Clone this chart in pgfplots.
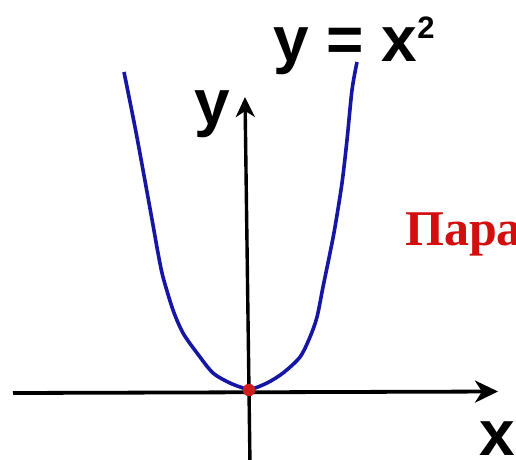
\documentclass[border=0pt]{standalone}
\usepackage{pgfplots}
\pgfplotsset{compat=1.18}
\usetikzlibrary{arrows.meta}
\usepackage{fontspec}
\setmainfont{Liberation Sans}
\newfontfamily\serifrus{Liberation Serif}
\definecolor{curveblue}{RGB}{22,22,165}
\definecolor{dotred}{RGB}{205,30,30}
\definecolor{textred}{RGB}{210,14,14}
\begin{document}
\begin{tikzpicture}
\useasboundingbox (0,0) rectangle (516pt,459pt);
\clip (0,0) rectangle (516pt,459pt);
\begin{axis}[
  at={(0,0)}, anchor=south west,
  scale only axis, width=516pt, height=459pt,
  xmin=-4.98, xmax=5.34, ymin=-1.38, ymax=7.8,
  hide axis, clip=true,
]
% axes
\addplot[black, line width=3.8pt, -{Stealth[length=23pt,width=22pt,inset=7pt]}]
  coordinates {(-4.72,-0.06) (4.98,-0.03)};
\addplot[black, line width=3.4pt, -{Stealth[length=20pt,width=19pt,inset=6pt]}]
  coordinates {(0.02,-1.5) (-0.08,5.86)};
% parabola
\addplot[curveblue, line width=3.6pt, smooth, tension=0.5] coordinates {
  (-2.50,6.36) (-2.28,5.26) (-2.12,4.40) (-1.92,3.30) (-1.82,2.74)
  (-1.72,2.26) (-1.52,1.60) (-1.32,1.14) (-1.04,0.74) (-0.72,0.34)
  (-0.38,0.14) (-0.12,0.04) (0,0) (0.36,0.14) (0.68,0.34) (1.02,0.66)
  (1.22,1.06) (1.36,1.46) (1.48,2.06) (1.62,2.74) (1.72,3.26)
  (1.86,4.14) (1.96,5.00) (2.06,6.00) (2.16,6.56)
};
% vertex
\addplot[only marks, mark=*, mark size=6pt, color=dotred] coordinates {(0,0)};
\end{axis}
\node[anchor=base west, inner sep=0pt] at (273pt,397pt)
  {\bfseries\fontsize{64}{64}\selectfont y = x\raisebox{23pt}{\fontsize{31}{31}\selectfont 2}};
\node[anchor=base west, inner sep=0pt] at (194pt,335pt)
  {\bfseries\fontsize{64}{64}\selectfont y};
\node[anchor=base west, inner sep=0pt] at (479pt,4pt)
  {\bfseries\fontsize{64}{64}\selectfont x};
\node[anchor=base west, inner sep=0pt, text=textred] at (405pt,214pt)
  {\serifrus\bfseries\fontsize{50}{50}\selectfont Парабола};
\end{tikzpicture}
\end{document}
